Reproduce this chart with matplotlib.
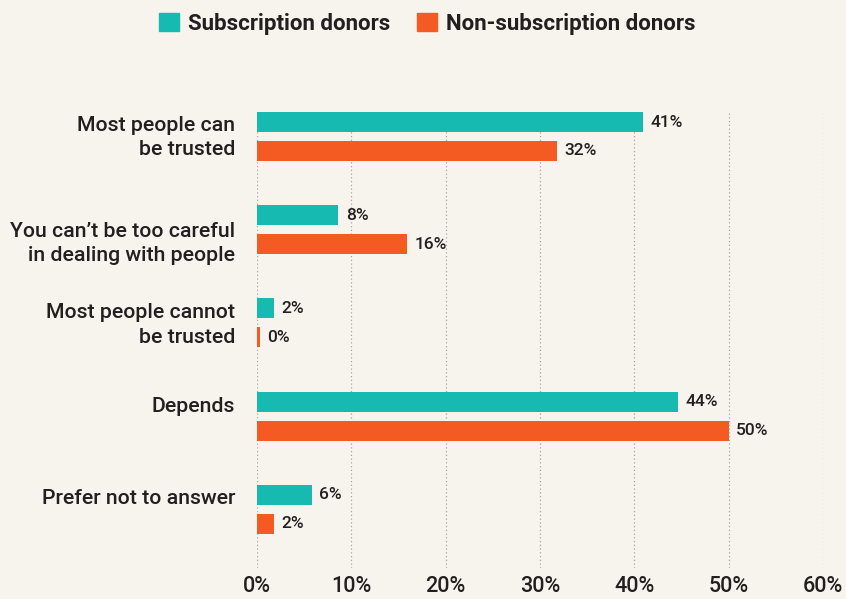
import numpy as np
import matplotlib.pyplot as plt
from matplotlib.patches import Patch

categories = ['Most people can\nbe trusted',
              'You can\u2019t be too careful\nin dealing with people',
              'Most people cannot\nbe trusted',
              'Depends',
              'Prefer not to answer']
subscription = [40.9, 8.6, 1.8, 44.6, 5.8]
non_subscription = [31.8, 15.9, 0.3, 50.0, 1.8]
sub_labels = ['41%', '8%', '2%', '44%', '6%']
non_labels = ['32%', '16%', '0%', '50%', '2%']
xticks = [0, 10, 20, 30, 40, 50, 60]

# vertical nudge of each category label (pixels, positive = down)
label_nudge = [1, 14, 2, -10, -11]

bg = '#f7f3ed'
teal = '#17bab0'
orange = '#f45b22'
dark = '#231f20'

plt.rcParams['font.family'] = ['Roboto', 'DejaVu Sans']

fig = plt.figure(figsize=(8.46, 5.99), dpi=100, facecolor=bg)
ax = fig.add_axes([257 / 846, 1 - 568 / 599, (823 - 257) / 846, (568 - 112) / 599])
ax.set_facecolor(bg)

y = np.arange(len(categories))
off = 0.155
h = 0.215
ax.barh(y - off, subscription, height=h, color=teal, zorder=3)
ax.barh(y + off, non_subscription, height=h, color=orange, zorder=3)

for yi, v, lab in zip(y, subscription, sub_labels):
    ax.text(v + 0.8, yi - off, lab, va='center', ha='left', fontsize=12.5,
            fontweight='medium', color=dark)
for yi, v, lab in zip(y, non_subscription, non_labels):
    ax.text(v + 0.8, yi + off, lab, va='center', ha='left', fontsize=12.5,
            fontweight='medium', color=dark)

# category labels
for yi, cat, dy in zip(y, categories, label_nudge):
    ax.annotate(cat, xy=(0, yi), xytext=(-22, -dy), textcoords='offset pixels',
                ha='right', va='center', fontsize=15.3, fontweight='medium',
                color=dark, linespacing=1.36, annotation_clip=False)

ax.set_xlim(0, 60)
ax.set_ylim(4.63, -0.263)
ax.set_yticks([])
ax.set_xticks(xticks)
ax.set_xticklabels([f'{t}%' for t in xticks], fontsize=15.5, fontweight='medium',
                   color=dark)
ax.tick_params(axis='x', length=0, pad=6)
ax.grid(axis='x', linestyle=(0, (1, 2)), color='#a8a8a8', linewidth=0.9, zorder=0)
for s in ax.spines.values():
    s.set_visible(False)

handles = [Patch(color=teal, label='Subscription donors'),
           Patch(color=orange, label='Non-subscription donors')]
leg = fig.legend(handles=handles, loc='upper center', bbox_to_anchor=(0.505, 1.012),
                 ncol=2, frameon=False, handlelength=0.9, handleheight=0.9,
                 handletextpad=0.4, columnspacing=1.2,
                 prop={'size': 16, 'weight': 'bold'})
for t in leg.get_texts():
    t.set_color(dark)

fig.savefig('out.png', dpi=100, facecolor=bg)
